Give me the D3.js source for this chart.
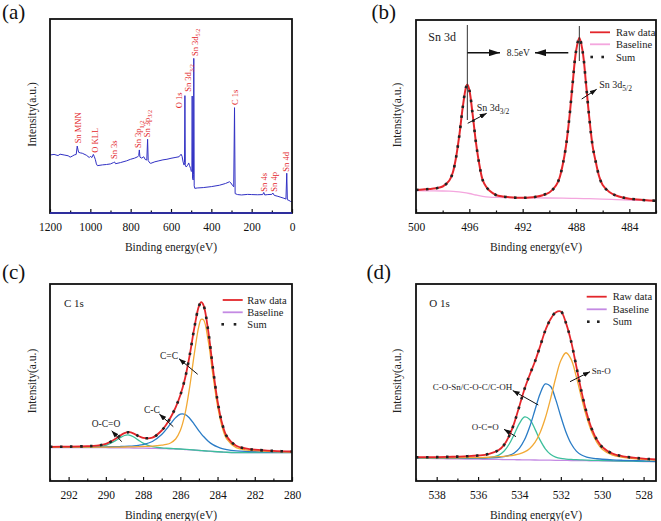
<!DOCTYPE html>
<html><head><meta charset="utf-8">
<script src="https://cdn.jsdelivr.net/npm/d3@7"></script>
<style>body{margin:0;background:#fff}svg{display:block}svg text{font-family:"Liberation Serif","Times New Roman",Times,serif}</style>
</head><body>
<script>
// ---------------- DATA ----------------
// (a) survey spectrum: binding energy (eV) and intensity (a.u.)
const surveyBE = [1200,1180,1160,1150,1130,1110,1100,1090,1080,1070,1065,1061,1058,1050,1040,1020,1005,1000,992,985,980,975,970,965,940,920,900,885,880,875,850,820,800,780,765,760,757,754,745,735,728,720,716,713,705,700,680,660,640,620,600,580,560,550,545,540,535,533,531,529,525,518,512,508,503,499,496.5,495,493,490,488.5,487,485,482,470,440,400,360,330,310,303,295,289,285,282,270,250,220,200,170,145,140,135,120,100,95,88,70,55,40,30,26,23,15,8,0];
const surveyI  = [29.9,30.2,29.6,30.3,29.9,29.5,28.8,29.3,29.9,30.2,34.5,32.5,31.3,31.0,30.8,29.8,28.6,29.2,28.6,30.2,29.0,27.5,25.3,24.4,24.8,25.0,25.3,26.0,26.3,25.4,26.0,26.9,27.7,28.3,29.0,29.6,32.5,28.8,28.3,29.0,27.6,27.3,38.0,27.0,25.8,25.6,26.4,26.9,27.4,27.7,28.2,28.6,29.0,30.3,29.2,26.3,24.7,26,60.5,25,23.7,24.5,25.8,24.4,23.0,21.4,22,60.3,18,17,20,79.7,14,12.7,12.9,13.1,13.6,14.3,15.2,16.1,15.5,14.2,13.5,54.3,10.0,9.5,9.3,9.6,9.5,9.4,9.5,10.6,9.3,9.5,9.6,10.3,9.1,8.6,8.1,7.6,7.2,20.5,6.8,6.5,6.0,5.8];
const surveyLabels = [
  {t:"Sn MNN", s:"", be:1062.6, i:35.9},
  {t:"O KLL", s:"", be:976.9, i:31.1},
  {t:"Sn 3s", s:"", be:882.6, i:27.8},
  {t:"Sn 3p", s:"1/2", be:762, i:33.5},
  {t:"Sn 3p", s:"3/2", be:720.5, i:39.0},
  {t:"O 1s", s:"", be:560.3, i:54.0},
  {t:"Sn 3d", s:"3/2", be:514, i:62.5},
  {t:"Sn 3d", s:"5/2", be:481, i:80.9},
  {t:"C 1s", s:"", be:281, i:55.7},
  {t:"Sn 4s", s:"", be:137, i:11.0},
  {t:"Sn 4p", s:"", be:89, i:11.0},
  {t:"Sn 4d", s:"", be:29.7, i:21.3}
];
const ticksA = [1200,1000,800,600,400,200,0];
const minorA = [1100,900,700,500,300,100];

// (b) Sn 3d
const beB  = [500,499.5,499,498.5,498,497.5,497.25,497,496.75,496.5,496.25,496.15,496,495.75,495.5,495.25,495,494.75,494.5,494,493.5,493,492.5,492,491.5,491,490.5,490,489.5,489.25,489,488.75,488.5,488.25,488,487.75,487.5,487.25,487,486.75,486.5,486.25,486,485.5,485,484.5,484,483,482.5,482];
const rawB = [23.0,23.5,24.0,24.8,26.5,32.5,40,55.3,77.7,105.2,125.8,128.5,123,98.4,70.1,48.5,33,26.5,22.5,18,16.5,15.8,15.3,15.2,15.4,16.2,17.8,20.5,27.5,34.5,48,67,95,129.6,161.5,175.3,161.4,129.4,94.8,66.6,50,36,28,21,17.5,15.5,14.3,13,12.5,12.3];
const sumB = rawB;
const bgBE_B = [500,499,498,497.5,497,496.5,496,495.5,495,494.5,494,493,491,489,488,487,486,485,484,483,482];
const baseB  = [22.3,22.2,22,21.8,21.4,20.6,19.5,18,16.7,15.9,15.6,15.4,15.1,14.8,14.6,14.3,13.9,13.4,13,12.6,12.3];
const peaksB = [496.15, 487.75];
const ticksB = [500,496,492,488,484];
const minorB = [498,494,490,486,482];

// (c) C 1s
const beC   = [293,292,291,290.5,290,289.5,289.25,289,288.75,288.5,288.25,288,287.5,287,286.75,286.5,286.25,286,285.75,285.5,285.25,285,284.875,284.75,284.5,284.25,284,283.75,283.5,283,282.5,282,281,280];
const rawC  = [34.2,34.4,34.8,35.3,37.1,41.9,45.2,47.9,48.8,47.4,45.0,43.1,43.4,50.5,56.5,64.2,73.7,85.8,102.3,125.3,152.8,174.9,178.8,175.6,150.1,113.2,80.2,57.4,44.6,35.2,32.6,31.3,30.1,29.5];
const sumC  = rawC;
const baseC = [33.5,33.5,33.4,33.35,33.3,33.2,33.15,33.1,33.05,33.0,32.95,32.9,32.7,32.5,32.35,32.2,32.0,31.8,31.5,31.2,30.85,30.5,30.3,30.15,29.8,29.5,29.2,28.95,28.7,28.4,28.3,28.3,28.3,28.3];
const ccC   = [33.75,33.8,33.8,33.85,33.9,33.95,33.95,34.0,34.1,34.2,34.35,34.5,34.9,35.8,36.55,38.3,42.0,50.5,66.9,93.5,126.85,155.1,161.7,161.15,140.0,106.2,75.2,53.85,41.8,33.3,31.2,30.3,29.4,29.0];
const cC    = [33.81,33.92,33.99,34.07,34.2,34.34,34.46,34.6,34.83,35.15,35.65,36.4,39.55,46.6,51.85,57.8,63.4,66.9,66.7,62.8,56.65,50.2,47.2,44.45,39.8,36.4,34.1,32.45,31.4,30.2,29.6,29.3,28.96,28.76];
const occC  = [33.6,33.68,33.78,34.11,35.64,40.06,43.11,45.5,45.95,44.0,40.91,37.95,34.3,33.08,32.77,32.52,32.27,32.02,31.69,31.36,30.99,30.62,30.41,30.25,29.9,29.58,29.27,29.01,28.76,28.45,28.35,28.34,28.33,28.32];
const ticksC = [292,290,288,286,284,282,280];
const minorC = [293,291,289,287,285,283,281];

// (d) O 1s
const beD   = [539,538.5,538,537.5,537,536.5,536,535.5,535,534.75,534.5,534.25,534,533.75,533.5,533.25,533,532.75,532.5,532.25,532,531.75,531.5,531.25,531,530.75,530.5,530.25,530,529.5,529,528.5,528,527.4];
const rawD  = [23.8,23.8,23.9,24.1,24.4,24.8,25.5,26.9,30.9,35.9,44.8,58.1,75.1,92.3,106.4,119.5,134.8,150.5,161.7,168.5,169.5,157.9,139.4,114.5,89.4,68.0,51.9,41.0,34.0,27.3,24.7,23.3,22.3,21.5];
const sumD  = rawD;
const baseD = [22.7,22.55,22.41,22.26,22.11,21.97,21.82,21.67,21.53,21.45,21.38,21.31,21.23,21.16,21.09,21.01,20.94,20.87,20.79,20.72,20.64,20.57,20.5,20.42,20.35,20.28,20.2,20.13,20.06,19.92,19.77,19.62,19.48,19.3];
const snoD  = [23.28,23.22,23.19,23.18,23.21,23.3,23.47,23.77,24.28,24.65,25.16,25.91,27.03,29.06,32.59,38.61,48.54,62.97,81.89,102.72,120.54,128.27,121.6,104.12,83.05,63.78,48.8,38.43,31.86,25.82,23.57,22.42,21.58,20.9];
const cosnD = [23.02,22.93,22.86,22.8,22.78,22.82,22.92,23.17,23.73,24.35,25.58,28.01,32.93,41.46,54.49,71.01,87.34,97.07,94.69,81.62,64.44,48.77,37.2,29.92,25.95,23.88,22.8,22.23,21.76,21.12,20.69,20.34,20.06,19.75];
const occD  = [22.89,22.78,22.7,22.63,22.59,22.63,22.78,23.27,25.93,29.75,36.78,46.81,57.63,64.06,61.49,51.91,40.84,32.17,26.69,23.92,22.54,21.97,21.56,21.28,21.07,20.88,20.72,20.58,20.45,20.23,20.02,19.82,19.65,19.44];
const ticksD = [538,536,534,532,530,528];
const minorD = [539,537,535,533,531,529];

const legendNames = ["Raw data","Baseline","Sum"];

// ---------------- STYLE ----------------
const FONT = "'Liberation Serif','Times New Roman',Times,serif";
const RED = "#e3262b", NAVY = "#3131c4", ORANGE = "#f2a935", BLUE = "#2a7cc6", GREEN = "#3dbf9c", PURPLE = "#c48ae3", PINK = "#f4a6de";

const svg = d3.select("body").append("svg").attr("width",661).attr("height",521)
  .style("font-family",FONT);
svg.append("rect").attr("width",661).attr("height",521).attr("fill","#fff");
const defs = svg.append("defs");
function marker(id,w,h){
  defs.append("marker").attr("id",id).attr("viewBox",`0 0 ${w} ${h}`)
    .attr("refX",w).attr("refY",h/2).attr("markerWidth",w).attr("markerHeight",h)
    .attr("markerUnits","userSpaceOnUse").attr("orient","auto")
    .append("path").attr("d",`M0,0L${w},${h/2}L0,${h}Z`).attr("fill","#111");
}
marker("ah",7,5); marker("ahBig",11,7);

function makePanel(o){
  const x = d3.scaleLinear().domain(o.xd).range([o.x0,o.x1]);
  const y = d3.scaleLinear().domain(o.yd).range([o.y1,o.y0]);
  const g = svg.append("g");
  const cid = "clip"+o.id;
  defs.append("clipPath").attr("id",cid).append("rect")
    .attr("x",o.x0).attr("y",o.y0).attr("width",o.x1-o.x0).attr("height",o.y1-o.y0);
  const plot = g.append("g").attr("clip-path",`url(#${cid})`);
  const ax = g.append("g").attr("transform",`translate(0,${o.y1})`)
    .call(d3.axisBottom(x).tickValues(o.major).tickSizeInner(-4).tickSizeOuter(0).tickPadding(10).tickFormat(d3.format("d")));
  ax.select(".domain").remove();
  ax.attr("font-family",FONT);
  ax.selectAll("text").attr("font-size",11.5).attr("font-family",FONT).attr("fill","#111");
  ax.selectAll("line").attr("stroke","#111").attr("stroke-width",1.2);
  const mx = g.append("g").attr("transform",`translate(0,${o.y1})`)
    .call(d3.axisBottom(x).tickValues(o.minor).tickSizeInner(-2.5).tickSizeOuter(0).tickFormat(()=>""));
  mx.select(".domain").remove();
  mx.selectAll("line").attr("stroke","#111").attr("stroke-width",1.2);
  // axis titles
  g.append("text").attr("x",(o.x0+o.x1)/2).attr("y",o.y1+37.5).attr("text-anchor","middle")
    .attr("font-size",11.5).attr("fill","#222").text("Binding energy(eV)");
  g.append("text").attr("transform",`translate(${o.ylx},${(o.y0+o.y1)/2-1.5}) rotate(-90)`)
    .attr("text-anchor","middle").attr("dy","0.35em").attr("font-size",11.5).attr("fill","#222").text("Intensity(a.u.)");
  g.append("text").attr("x",o.lx).attr("y",o.ly).attr("font-size",21).attr("fill","#111").text(o.letter);
  return {x,y,g,plot,o};
}
function frame(P){
  const o = P.o;
  P.g.append("rect").attr("x",o.x0).attr("y",o.y0).attr("width",o.x1-o.x0).attr("height",o.y1-o.y0)
    .attr("fill","none").attr("stroke","#111").attr("stroke-width",1.8);
}
function drawLine(P, xs, ys, color, width, curve, dash){
  const line = d3.line().x(d=>P.x(d[0])).y(d=>P.y(d[1])).curve(curve || d3.curveCatmullRom.alpha(0.5));
  const p = P.plot.append("path").attr("d",line(d3.zip(xs,ys))).attr("fill","none")
    .attr("stroke",color).attr("stroke-width",width).attr("stroke-linejoin","round");
  if(dash) p.attr("stroke-dasharray",dash);
  return p;
}
function txt(g,x,y,main,sub,size,opts={}){
  const t = g.append("text").attr("x",x).attr("y",y).attr("font-size",size).attr("fill",opts.fill||"#222");
  if(opts.anchor) t.attr("text-anchor",opts.anchor);
  t.append("tspan").text(main);
  if(sub) t.append("tspan").attr("font-size",size*0.75).attr("dy",size*0.3).text(sub);
  return t;
}
function arrow(g,x1,y1,x2,y2,big){
  g.append("line").attr("x1",x1).attr("y1",y1).attr("x2",x2).attr("y2",y2)
    .attr("stroke","#111").attr("stroke-width",big?1.6:1)
    .attr("marker-end",`url(#${big?"ahBig":"ah"})`);
}
function legend(g,lx,tx,ys,baseColor,dotXs){
  g.append("line").attr("x1",lx).attr("x2",lx+20).attr("y1",ys[0]).attr("y2",ys[0]).attr("stroke",RED).attr("stroke-width",1.8);
  g.append("line").attr("x1",lx).attr("x2",lx+20).attr("y1",ys[1]).attr("y2",ys[1]).attr("stroke",baseColor).attr("stroke-width",1.8);
  dotXs.forEach(dx=>g.append("rect").attr("x",dx-1.3).attr("y",ys[2]-1.3).attr("width",2.6).attr("height",2.6).attr("fill","#222"));
  legendNames.forEach((n,i)=>g.append("text").attr("x",tx).attr("y",ys[i]).attr("dy","0.35em")
    .attr("font-size",10.5).attr("fill","#222").text(n));
}
const SUMDASH = "2.5 7.5";

// ---------------- PANEL A ----------------
const A = makePanel({id:"A",x0:50,x1:292,y0:19,y1:213,xd:[1200,0],yd:[0,100],major:ticksA,minor:minorA,ylx:32,lx:2,ly:18.5,letter:"(a)"});
drawLine(A, surveyBE, surveyI, NAVY, 1, d3.curveLinear);
surveyLabels.forEach(l=>{
  const t = A.g.append("text").attr("transform",`translate(${A.x(l.be)},${A.y(l.i)}) rotate(-90)`)
    .attr("dy","0.35em").attr("font-size",8.5).attr("fill",RED);
  t.append("tspan").text(l.t);
  if(l.s) t.append("tspan").attr("font-size",6.2).attr("dy",2.2).text(l.s);
});
frame(A);
A.g.append("line").attr("x1",50).attr("x2",292).attr("y1",213).attr("y2",213).attr("stroke",NAVY).attr("stroke-width",1.6);

// ---------------- PANEL B ----------------
const B = makePanel({id:"B",x0:416,x1:656,y0:20,y1:213,xd:[500,482],yd:[0,193],major:ticksB,minor:minorB,ylx:396.7,lx:371.5,ly:18.5,letter:"(b)"});
drawLine(B, bgBE_B, baseB, PINK, 1.3);
drawLine(B, beB, rawB, RED, 2);
drawLine(B, beB, sumB, "#222", 2.6, null, SUMDASH);
B.g.append("line").attr("x1",B.x(peaksB[0])).attr("x2",B.x(peaksB[0])).attr("y1",25).attr("y2",120).attr("stroke","#333").attr("stroke-width",1);
B.g.append("line").attr("x1",B.x(peaksB[1])).attr("x2",B.x(peaksB[1])).attr("y1",26).attr("y2",61).attr("stroke","#333").attr("stroke-width",1);
arrow(B.g, B.x(peaksB[0]), 52.7, 500, 52.7, true);
arrow(B.g, 568.3, 52.7, 535, 52.7, true);
txt(B.g, 518.3, 56, "8.5eV", "", 9.5, {anchor:"middle"});
txt(B.g, 428.3, 41, "Sn 3d", "", 12);
txt(B.g, 476.7, 110.5, "Sn 3d", "3/2", 10);
arrow(B.g, 467.7, 123.3, 486.7, 113.3);
txt(B.g, 599.3, 88.3, "Sn 3d", "5/2", 10);
arrow(B.g, 581.7, 99, 596.7, 89.3);
legend(B.g, 590, 616, [32.3,44.3,57], PINK, [591.7,602.7]);
frame(B);

// ---------------- PANEL C ----------------
const C = makePanel({id:"C",x0:50,x1:292,y0:284,y1:481,xd:[293,280],yd:[0,197],major:ticksC,minor:minorC,ylx:31.7,lx:2,ly:278.5,letter:"(c)"});
drawLine(C, beC, baseC, PURPLE, 1.3);
drawLine(C, beC, occC, GREEN, 1.3);
drawLine(C, beC, cC, BLUE, 1.3);
drawLine(C, beC, ccC, ORANGE, 1.3);
drawLine(C, beC, rawC, RED, 1.8);
drawLine(C, beC, sumC, "#222", 2.6, null, SUMDASH);
txt(C.g, 64, 307, "C 1s", "", 11);
txt(C.g, 160, 358.5, "C=C", "", 9.5);
arrow(C.g, 197.7, 374.3, 179, 358.7);
txt(C.g, 144, 412.8, "C-C", "", 9.5);
arrow(C.g, 173.3, 426.7, 159.3, 414);
txt(C.g, 91.7, 426.8, "O-C=O", "", 9.5);
arrow(C.g, 121.7, 441.7, 111.7, 430.7);
legend(C.g, 222.7, 247.3, [300,312.3,324.3], PURPLE, [222.7,235]);
frame(C);

// ---------------- PANEL D ----------------
const D = makePanel({id:"D",x0:416,x1:656,y0:284,y1:481,xd:[539,527.4],yd:[0,197],major:ticksD,minor:minorD,ylx:396.7,lx:366.5,ly:278.5,letter:"(d)"});
drawLine(D, beD, baseD, PURPLE, 1.3);
drawLine(D, beD, occD, GREEN, 1.3);
drawLine(D, beD, cosnD, BLUE, 1.3);
drawLine(D, beD, snoD, ORANGE, 1.3);
drawLine(D, beD, rawD, RED, 1.8);
drawLine(D, beD, sumD, "#222", 2.6, null, SUMDASH);
txt(D.g, 429.3, 307, "O 1s", "", 11);
txt(D.g, 591.7, 374, "Sn-O", "", 9);
arrow(D.g, 570, 381.7, 590, 371.7);
txt(D.g, 432.7, 390, "C-O-Sn/C-O-C/C-OH", "", 9);
arrow(D.g, 538.3, 405, 512.7, 390.5);
txt(D.g, 471.7, 430, "O-C=O", "", 9);
arrow(D.g, 516, 436.7, 504, 429.3);
legend(D.g, 586.7, 612.7, [296.7,309.3,321.7], PURPLE, [588.3,598.3]);
frame(D);
</script>
</body></html>
